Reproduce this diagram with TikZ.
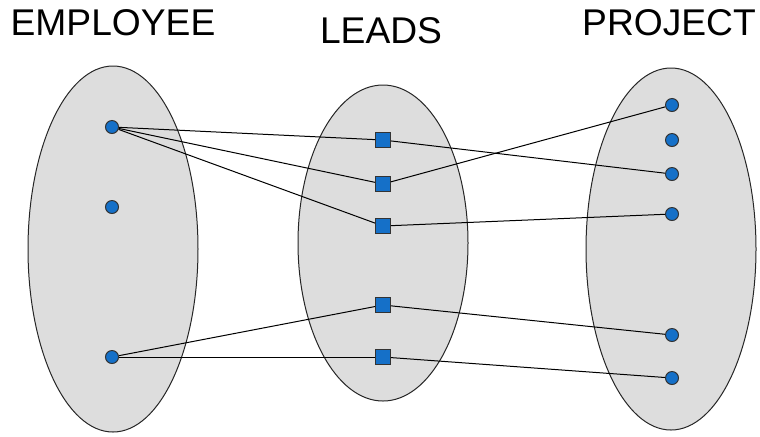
\documentclass[tikz,border=0pt]{standalone}
\usepackage{fontspec}
\setmainfont{Liberation Sans}
\definecolor{dotblue}{HTML}{1570C8}
\definecolor{setgray}{HTML}{DDDDDD}

\begin{document}
\begin{tikzpicture}[x=0.5pt,y=-0.5pt,
		setshape/.style={draw=black!85,fill=setgray,line width=0.5pt},
		elem/.style={circle,draw=black!80,fill=dotblue,inner sep=0pt,minimum size=6.5pt,line width=0.5pt},
		rel/.style={rectangle,draw=black!80,fill=dotblue,inner sep=0pt,minimum size=7.5pt,line width=0.5pt},
		title/.style={font=\fontsize{18.6}{22}\selectfont}]
	\useasboundingbox (0,0) rectangle (760,436);
	
	\draw[setshape] (113,249) ellipse [x radius=85, y radius=183];
	\draw[setshape] (383,243) ellipse [x radius=85, y radius=158];
	\draw[setshape] (671,249) ellipse [x radius=85, y radius=181];
	
	\node[title] (emp) at (113,23) {EMPLOYEE};
	\node[title] (leads) at (381,31) {LEADS};
	\node[title] (proj) at (669,23) {PROJECT};
	
	% employees
	\node[elem] (e1) at (112,127) {};
	\node[elem] (e2) at (112,207) {};
	\node[elem] (e3) at (112,357) {};
	
	% leads
	\node[rel] (l1) at (383,140) {};
	\node[rel] (l2) at (383,184) {};
	\node[rel] (l3) at (383,226) {};
	\node[rel] (l4) at (383,305) {};
	\node[rel] (l5) at (383,357) {};
	
	% projects
	\node[elem] (p1) at (672,105) {};
	\node[elem] (p2) at (672,140) {};
	\node[elem] (p3) at (672,174) {};
	\node[elem] (p4) at (672,214) {};
	\node[elem] (p5) at (672,335) {};
	\node[elem] (p6) at (672,378) {};
	
	\foreach \a/\b in {e1/l1,e1/l2,e1/l3,e3/l4,e3/l5,l1/p3,l2/p1,l3/p4,l4/p5,l5/p6}
		\draw[line width=0.5pt] (\a) -- (\b);
\end{tikzpicture}
\end{document}
